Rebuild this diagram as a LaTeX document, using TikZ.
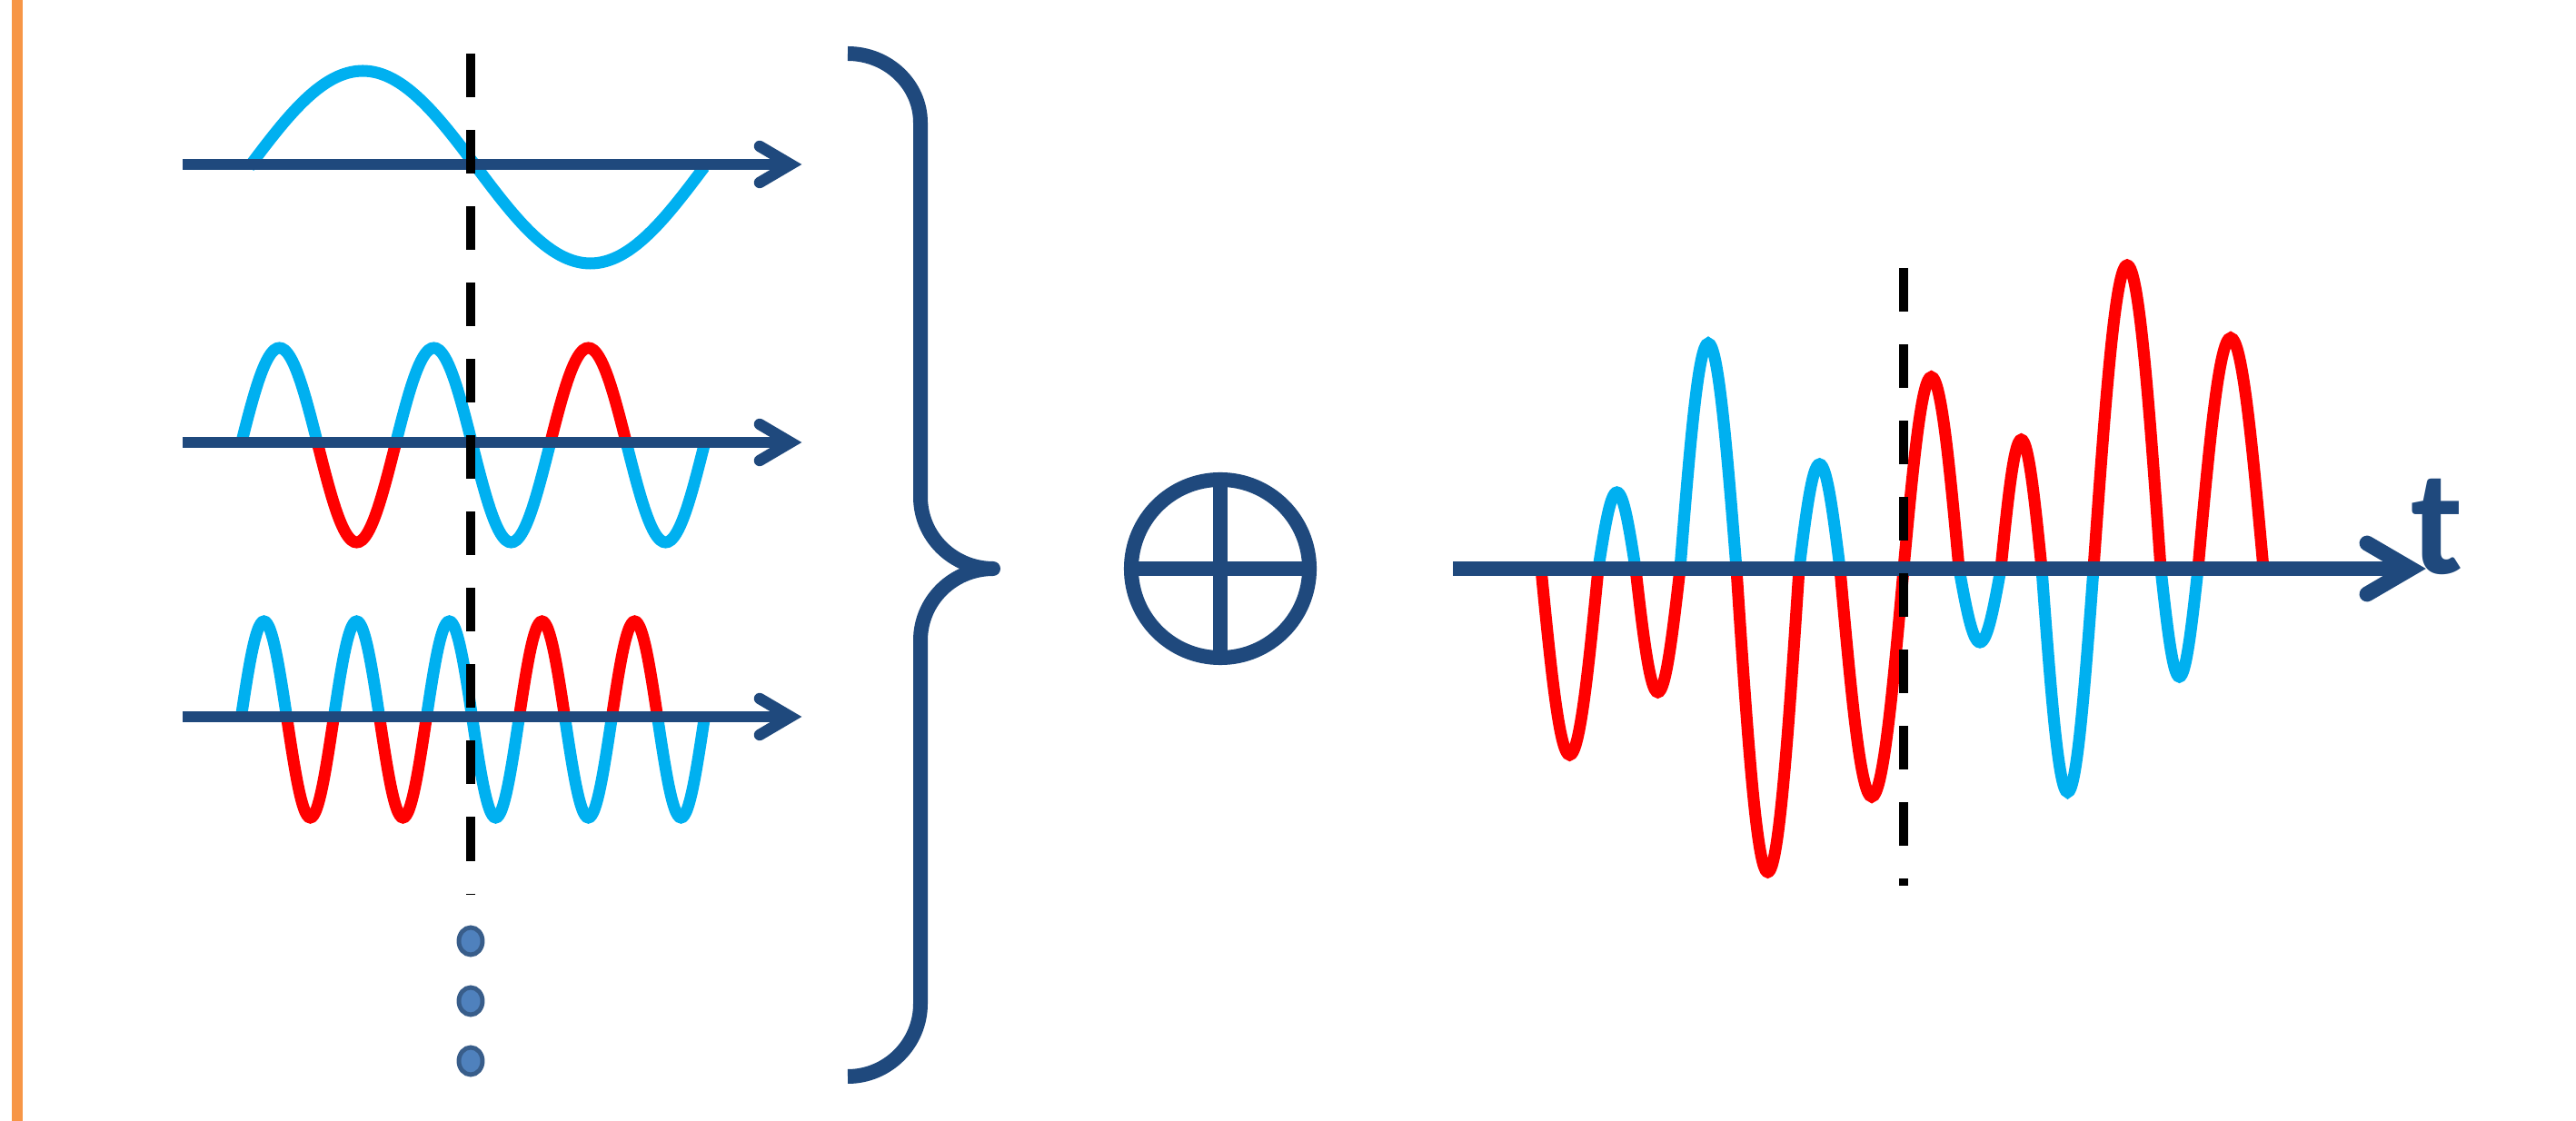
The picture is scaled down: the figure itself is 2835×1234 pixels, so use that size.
\documentclass[tikz,border=0pt]{standalone}
\usepackage{fontspec}
\newfontfamily\labelfont{Carlito}
\definecolor{axisblue}{HTML}{1F497D}
\definecolor{wavecyan}{HTML}{00B0F0}
\definecolor{wavered}{HTML}{FF0000}
\definecolor{barorange}{HTML}{F79646}
\definecolor{dotfill}{HTML}{4F81BD}
\definecolor{dotline}{HTML}{385D8A}
\newcommand{\halfwave}[5]{%
  \draw[wave,#1] plot[domain=0:180,samples=31,smooth,variable=\t] ({(#2)+((#3)-(#2))*(\t/180)},{(#4)-(#5)*sin(\t)});}

\begin{document}
\begin{tikzpicture}[x=0.01cm,y=-0.01cm,
  wave/.style={line width=3.7pt},
  axisline/.style={axisblue,line width=3.56pt},
  tipline/.style={axisblue,line width=3.56pt,line cap=round,line join=miter},
  cutline/.style={black,line width=3.1pt,dash pattern=on 0.48cm off 0.36cm},
  sumline/.style={axisblue,line width=4.55pt},
  dotmark/.style={draw=dotline,fill=dotfill,line width=1.4pt}]
\useasboundingbox (0,0) rectangle (2835,1234);
\coordinate (S) at (1343,626);
\coordinate (T0) at (1599,626);
\coordinate (T1) at (2653,626);

\draw[barorange,line width=3.5pt] (19,0) -- (19,1234);

\halfwave{wavecyan}{274}{524.5}{184}{106}
\halfwave{wavecyan}{524.5}{775}{184}{-106}
\foreach \c [count=\i from 0] in {wavecyan,wavered,wavecyan,wavecyan,wavered,wavecyan}
  {\halfwave{\c}{265+85*\i}{350+85*\i}{490}{107*(1-2*mod(\i,2))}}
\foreach \c [count=\i from 0] in {wavecyan,wavered,wavecyan,wavered,wavecyan,wavecyan,wavered,wavecyan,wavered,wavecyan}
  {\halfwave{\c}{265+51*\i}{316+51*\i}{792}{108*(1-2*mod(\i,2))}}
\foreach \xa/\xb/\amp/\c in {1696/1759/-205/wavered,1759/1800/84/wavecyan,1800/1849/-136/wavered,
  1849/1911/248/wavecyan,1911/1980/-334/wavered,1980/2025/115/wavecyan,2025/2095/-251/wavered,
  2095/2156/211/wavered,2156/2202/-81/wavecyan,2202/2247/142/wavered,2247/2304/-246/wavecyan,
  2304/2378/334/wavered,2378/2419/-119/wavecyan,2419/2491/254/wavered}
  {\halfwave{\c}{\xa}{\xb}{626}{\amp}}

\foreach \y in {181,487,789} {
  \draw[axisline] (201,\y) -- (870,\y);
  \draw[tipline] (836,\y-20) -- (870,\y) -- (836,\y+20);
}
\draw[axisline,line width=4.8pt] (T0) -- (T1);
\draw[tipline,line width=4.8pt] (2605,598) -- (T1) -- (2605,654);

\draw[cutline] (518,59) -- (518,985);
\draw[cutline] (2095,295) -- (2095,975);

\draw[sumline,line join=round] (933,59) .. controls (977,59) and (1013,93) .. (1013,135) -- (1013,547)
  .. controls (1013,591) and (1049,626) .. (1093,626) .. controls (1049,626) and (1013,661) .. (1013,705)
  -- (1013,1105) .. controls (1013,1149) and (977,1185) .. (933,1185);

\draw[sumline] (S) circle[radius=0.98cm];
\draw[sumline] (1343,528) -- (1343,724) (1245,626) -- (1441,626);

\foreach \y in {1036,1102,1168}
  \draw[dotmark] (518,\y) ellipse[x radius=0.13cm,y radius=0.15cm];

\node[font=\labelfont\bfseries\fontsize{47}{56}\selectfont,text=axisblue,inner sep=0pt,anchor=base west] (tlabel) at (2653,632) {t};
\end{tikzpicture}
\end{document}
